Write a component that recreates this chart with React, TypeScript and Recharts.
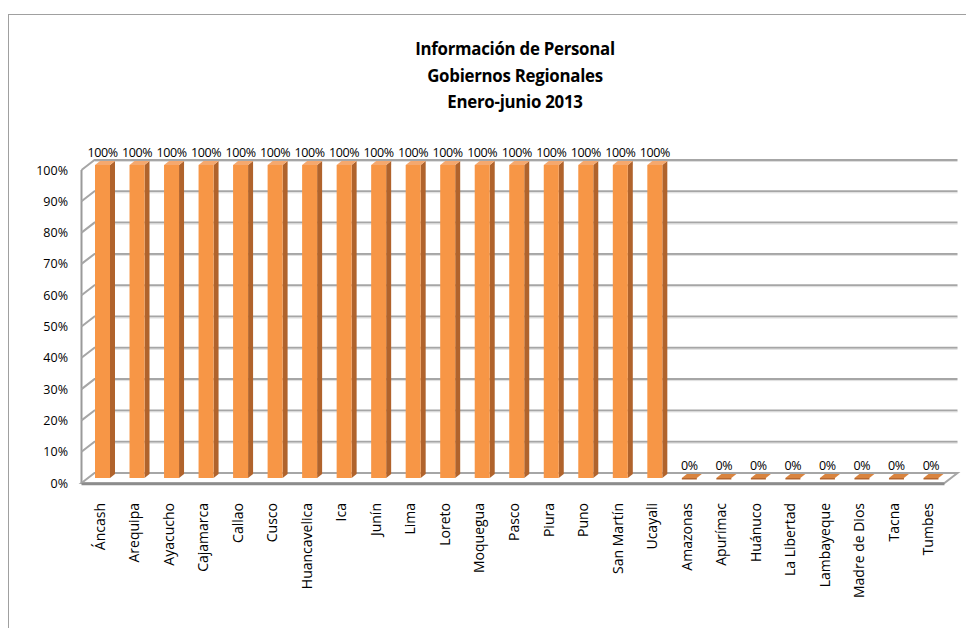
import { BarChart, Bar, XAxis, YAxis, CartesianGrid, LabelList } from "recharts";

const regions = [
  "Áncash", "Arequipa", "Ayacucho", "Cajamarca", "Callao", "Cusco", "Huancavelica",
  "Ica", "Junín", "Lima", "Loreto", "Moquegua", "Pasco", "Piura", "Puno", "San Martín",
  "Ucayali", "Amazonas", "Apurímac", "Huánuco", "La Libertad", "Lambayeque",
  "Madre de Dios", "Tacna", "Tumbes",
];
const shares = [1, 1, 1, 1, 1, 1, 1, 1, 1, 1, 1, 1, 1, 1, 1, 1, 1, 0, 0, 0, 0, 0, 0, 0, 0];
const yTicks = [0, 0.1, 0.2, 0.3, 0.4, 0.5, 0.6, 0.7, 0.8, 0.9, 1];
const titleLines = ["Información de Personal", "Gobiernos Regionales", "Enero-junio 2013"];

const data = regions.map((name, i) => ({ name, value: shares[i] }));

const W = 966;
const H = 620;
const TOP = 157;
const XAXIS_H = 150;
const BOTTOM = H - XAXIS_H;
const D = 6.5; // half depth of the 3D box
const FONT = "'Open Sans', 'Noto Sans', sans-serif";
const GRID = "#a6a6a6";

const pct = (v: number) => `${Math.round(v * 100)}%`;

function GridLine(props: any) {
  const { x1, x2, y1 } = props;
  const y = Number(y1);
  const isFloor = Math.abs(y - BOTTOM) < 1;
  if (isFloor) {
    return (
      <g>
        <line x1={x1 - D} y1={TOP + 5} x2={x1 - D} y2={y + 5} stroke="#9a9a9a" strokeWidth={2} />
        <polygon
          points={`${x1 - D},${y + 5} ${x1 + D},${y - 5} ${x2 + D},${y - 5} ${x2 - D},${y + 5}`}
          fill="#fff"
          stroke={GRID}
          strokeWidth={2}
        />
        <line x1={x1 - D} y1={y + 6} x2={x2 - D} y2={y + 6} stroke="#8c8c8c" strokeWidth={2.5} />
      </g>
    );
  }
  return (
    <g>
      <polyline
        points={`${x1 - D},${y + 5} ${x1 + D},${y - 5} ${x2 + D},${y - 5}`}
        fill="none"
        stroke={GRID}
        strokeWidth={2}
      />
      <line x1={x1 + D} y1={y - 3.5} x2={x2 + D} y2={y - 3.5} stroke="#dedede" strokeWidth={1} />
    </g>
  );
}

function Column(props: any) {
  const { x, y, height } = props;
  const fw = 15;
  const sd = 5;
  const dy = 4;
  if (!height || height < 1) {
    const b = y;
    return (
      <g>
        <polygon
          points={`${x},${b} ${x + sd},${b - dy} ${x + fw + sd},${b - dy} ${x + fw},${b}`}
          fill="#d9843f"
        />
        <rect x={x} y={b} width={fw} height={1.5} fill="#b5662e" />
      </g>
    );
  }
  return (
    <g>
      <polygon
        points={`${x + fw},${y} ${x + fw + sd},${y - dy} ${x + fw + sd},${y + height - dy} ${x + fw},${y + height}`}
        fill="#b0632c"
      />
      <polygon
        points={`${x},${y} ${x + sd},${y - dy} ${x + fw + sd},${y - dy} ${x + fw},${y}`}
        fill="#f5a86e"
      />
      <rect x={x} y={y} width={fw} height={height} fill="#f79646" />
    </g>
  );
}

function ValueLabel(props: any) {
  const { x, y, value } = props;
  return (
    <text x={x + 7.5} y={y - 13} textAnchor="middle" dominantBaseline="central" fontSize={12.5} fontFamily={FONT} fill="#000" letterSpacing={-0.4}>
      {pct(value)}
    </text>
  );
}

function CategoryTick(props: any) {
  const { x, y, payload } = props;
  const tx = x - 6;
  const ty = y + 17;
  return (
    <text
      x={tx}
      y={ty}
      transform={`rotate(-90, ${tx}, ${ty})`}
      textAnchor="end"
      dominantBaseline="central"
      fontSize={14}
      fontFamily={FONT}
      fill="#000"
    >
      {payload.value}
    </text>
  );
}

function PercentTick(props: any) {
  const { x, y, payload } = props;
  return (
    <text x={x} y={y + 5} textAnchor="end" dominantBaseline="central" fontSize={12.5} fontFamily={FONT} fill="#000">
      {pct(payload.value)}
    </text>
  );
}

export default function App() {
  return (
    <div style={{ position: "relative", width: W, height: H }}>
      <div
        style={{
          position: "absolute",
          left: 0,
          top: 6,
          width: W,
          height: H,
          borderTop: "1px solid #a0a0a0",
          borderLeft: "1px solid #a0a0a0",
        }}
      />
      <div
        style={{
          position: "absolute",
          left: 257,
          top: 27,
          width: 500,
          textAlign: "center",
          fontFamily: FONT,
          fontWeight: "bold",
          fontSize: 18.5,
          lineHeight: "26.5px",
          color: "#000",
          transform: "scaleX(0.91)",
          letterSpacing: -0.3,
        }}
      >
        {titleLines.map((t) => (
          <div key={t}>{t}</div>
        ))}
      </div>
      <BarChart
        width={W}
        height={H}
        data={data}
        margin={{ top: TOP, right: 23, bottom: 0, left: 0 }}
        style={{ position: "absolute", left: 0, top: 0 }}
      >
        <CartesianGrid vertical={false} horizontal={GridLine as any} />
        <XAxis
          dataKey="name"
          interval={0}
          height={XAXIS_H}
          axisLine={false}
          tickLine={false}
          tick={<CategoryTick />}
        />
        <YAxis
          domain={[0, 1]}
          ticks={yTicks}
          width={80}
          axisLine={false}
          tickLine={false}
          tickSize={0}
          tickMargin={20}
          tick={<PercentTick />}
        />
        <Bar dataKey="value" barSize={20} shape={<Column />} isAnimationActive={false}>
          <LabelList dataKey="value" content={<ValueLabel />} />
        </Bar>
      </BarChart>
    </div>
  );
}
